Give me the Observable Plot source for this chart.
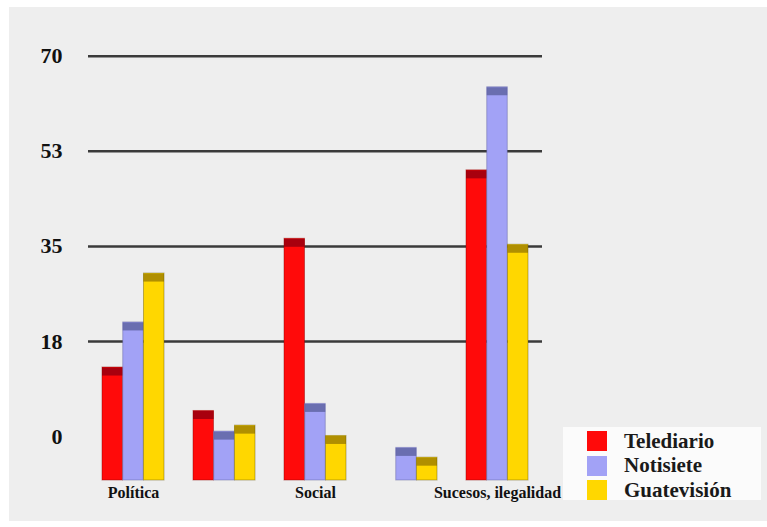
<!DOCTYPE html>
<html>
<head>
<meta charset="utf-8">
<script src="https://cdn.jsdelivr.net/npm/d3@7"></script>
<script src="https://cdn.jsdelivr.net/npm/@observablehq/plot@0.6"></script>
<style>
  html, body { margin: 0; padding: 0; background: #ffffff; }
  #wrap { position: relative; width: 767px; height: 527px; overflow: hidden; }
  #panel { position: absolute; left: 9px; top: 7px; right: 0; bottom: 6px; background: #eeeeee; }
  #chart { position: absolute; left: 0; top: 0; }
  #legend { position: absolute; left: 563px; top: 427px; width: 198px; height: 73px; background: #fbfbfb;
            font-family: "Liberation Serif", "DejaVu Serif", serif; font-weight: bold; font-size: 21px; color: #1a1a1a; }
  .item { position: absolute; left: 24px; height: 20px; display: flex; align-items: center; }
  .sw { width: 20px; height: 20px; margin-right: 17px; }
  #chart svg text { font-family: "Liberation Serif", "DejaVu Serif", serif; }
</style>
</head>
<body>
<div id="wrap">
  <div id="panel"></div>
  <div id="chart"></div>
  <div id="legend"></div>
</div>
<script>
// ---- data ----
const categories = ["c1", "c2", "c3", "c4", "c5"];
const categoryLabels = ["Política", "", "Social", "", "Sucesos, ilegalidad"];
const series = ["Telediario", "Notisiete", "Guatevisión"];
const telediario = [12.7, 4.7, 36.4, null, 49.0];
const notisiete = [21.0, 0.9, 6.0, -2.1, 64.3];
const guatevision = [30.0, 2.0, 0.1, -3.9, 35.3];
const yTicks = [0, 17.5, 35, 52.5, 70];
const baseline = -8.1;

const colors = ["#ff0a0a", "#a2a2f6", "#ffd700"];
const capColors = ["#a8000e", "#6a6eb0", "#b08f00"];
const edgeColors = ["#8a0000", "#5a5e9a", "#6b5a00"];

const seriesValues = [telediario, notisiete, guatevision];
const tables = seriesValues.map((vals, j) =>
  categories.map((c, i) => ({cat: c, series: series[j], value: vals[i]})).filter(d => d.value != null)
);

// layout
const W = 767, H = 527;
const mL = 88, mR = 225;
const pIn = 0.32, pOut = 0.14;
const frameW = W - mL - mR;
const step = frameW / (categories.length - pIn + 2 * pOut);
const bw = step * (1 - pIn);
const barW = bw / 3;

const marks = [
  Plot.ruleY(yTicks.filter(t => t > 0), {stroke: "#3a3a3a", strokeWidth: 2.5})
];
tables.forEach((tab, j) => {
  const inset = {insetLeft: j * barW, insetRight: (2 - j) * barW};
  marks.push(Plot.barY(tab, {x: "cat", y1: baseline, y2: "value", fill: colors[j], ...inset}));
  marks.push(Plot.tickY(tab, {x: "cat", y: "value", stroke: capColors[j], strokeWidth: 8, dy: 4, ...inset}));
  marks.push(Plot.barY(tab, {x: "cat", y1: baseline, y2: "value", fill: "none", stroke: edgeColors[j],
    strokeOpacity: 0.45, strokeWidth: 1, ...inset}));
});
marks.push(Plot.axisY({ticks: yTicks, tickFormat: d => String(Math.round(d)), tickSize: 0, tickPadding: 26,
  fontSize: 22, fontWeight: "bold", fill: "#111"}));
marks.push(Plot.axisX({tickSize: 0, tickPadding: 6, fontSize: 16, fontWeight: "bold", fill: "#111",
  tickFormat: c => categoryLabels[categories.indexOf(c)]}));

const chart = Plot.plot({
  width: W,
  height: H,
  marginLeft: mL,
  marginRight: mR,
  marginTop: 55.8,
  marginBottom: 47,
  style: {background: "transparent", fontFamily: "'Liberation Serif', 'DejaVu Serif', serif", overflow: "visible"},
  x: {type: "band", domain: categories, paddingInner: pIn, paddingOuter: pOut, label: null},
  y: {domain: [baseline, 70], label: null},
  marks
});
document.getElementById("chart").appendChild(chart);

// legend
const leg = document.getElementById("legend");
series.forEach((s, j) => {
  const it = document.createElement("div");
  it.className = "item";
  it.style.top = (4 + j * 24.5) + "px";
  const sw = document.createElement("div");
  sw.className = "sw";
  sw.style.background = colors[j];
  const tx = document.createElement("span");
  tx.textContent = s;
  it.appendChild(sw);
  it.appendChild(tx);
  leg.appendChild(it);
});
</script>
</body>
</html>
